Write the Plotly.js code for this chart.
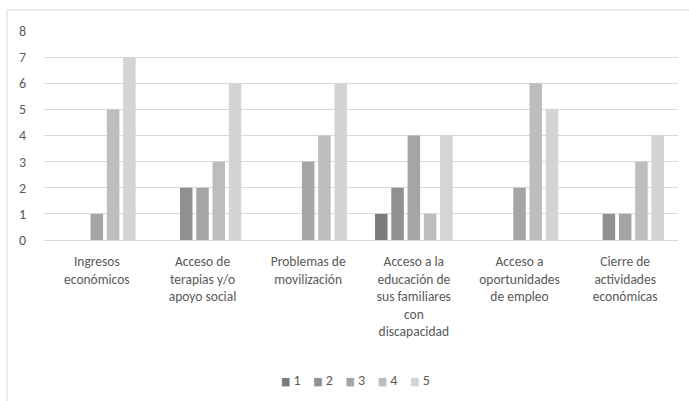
<!DOCTYPE html>
<html>
<head>
<meta charset="utf-8">
<script src="https://cdn.plot.ly/plotly-3.0.1.min.js"></script>
<style>html,body{margin:0;padding:0;background:#fff;}#chart{width:689px;height:401px;}</style>
</head>
<body>
<div id="chart"></div>
<script>
const categories = [
  "Ingresos<br>económicos",
  "Acceso de<br>terapias y/o<br>apoyo social",
  "Problemas de<br>movilización",
  "Acceso a la<br>educación de<br>sus familiares<br>con<br>discapacidad",
  "Acceso a<br>oportunidades<br>de empleo",
  "Cierre de<br>actividades<br>económicas"
];
const seriesNames = ["1", "2", "3", "4", "5"];
const s1 = [0, 0, 0, 1, 0, 0];
const s2 = [0, 2, 0, 2, 0, 1];
const s3 = [1, 2, 3, 4, 2, 1];
const s4 = [5, 3, 4, 1, 6, 3];
const s5 = [7, 6, 6, 4, 5, 4];
const yTicks = [0, 1, 2, 3, 4, 5, 6, 7, 8];

const colors = ["#7c7c7c", "#909090", "#a5a5a5", "#bdbdbd", "#d4d4d4"];
const allSeries = [s1, s2, s3, s4, s5];
const FONT = "Carlito, 'Liberation Sans Narrow', 'DejaVu Sans Condensed', sans-serif";

const traces = allSeries.map((vals, i) => ({
  type: "bar",
  name: seriesNames[i],
  x: categories,
  y: vals,
  marker: {color: colors[i], line: {width: 0}},
  hoverinfo: "skip",
  showlegend: false
}));

const legendText = seriesNames.map((n, i) =>
  '<span style="color:' + colors[i] + ';font-size:11px">■</span>&nbsp;' + n
).join('&nbsp;&nbsp;&nbsp;&nbsp;');

const layout = {
  width: 689,
  height: 401,
  margin: {l: 44, r: 11, t: 31, b: 161},
  paper_bgcolor: "#ffffff",
  plot_bgcolor: "#ffffff",
  barmode: "group",
  bargap: 0.23,
  bargroupgap: 0.23,
  font: {family: FONT, size: 13.5, color: "#595959"},
  xaxis: {
    type: "category",
    tickfont: {family: FONT, size: 13.5, color: "#595959"},
    showgrid: false,
    showline: true,
    linecolor: "#d9d9d9",
    linewidth: 1,
    ticks: "",
    tickangle: 0,
    ticklabelstandoff: 9,
    automargin: false
  },
  yaxis: {
    range: [0, 8],
    tickvals: yTicks,
    ticktext: yTicks.map(String),
    tickfont: {family: FONT, size: 14, color: "#595959"},
    showgrid: true,
    gridcolor: "#d9d9d9",
    gridwidth: 1,
    zeroline: false,
    showline: false,
    ticks: "",
    ticklabelstandoff: 17,
    automargin: false
  },
  showlegend: false,
  annotations: [{
    xref: "paper", yref: "paper",
    x: 0.492, y: -0.67,
    xanchor: "center", yanchor: "middle",
    showarrow: false,
    text: legendText,
    font: {family: FONT, size: 14, color: "#595959"}
  }],
  shapes: [{
    type: "rect",
    xref: "paper", yref: "paper",
    x0: -0.0584, x1: 1.1, y0: -0.9, y1: 1.1005,
    line: {color: "#d9d9d9", width: 1},
    fillcolor: "rgba(0,0,0,0)",
    layer: "below"
  }]
};

Plotly.newPlot("chart", traces, layout, {staticPlot: true, displayModeBar: false});
</script>
</body>
</html>
